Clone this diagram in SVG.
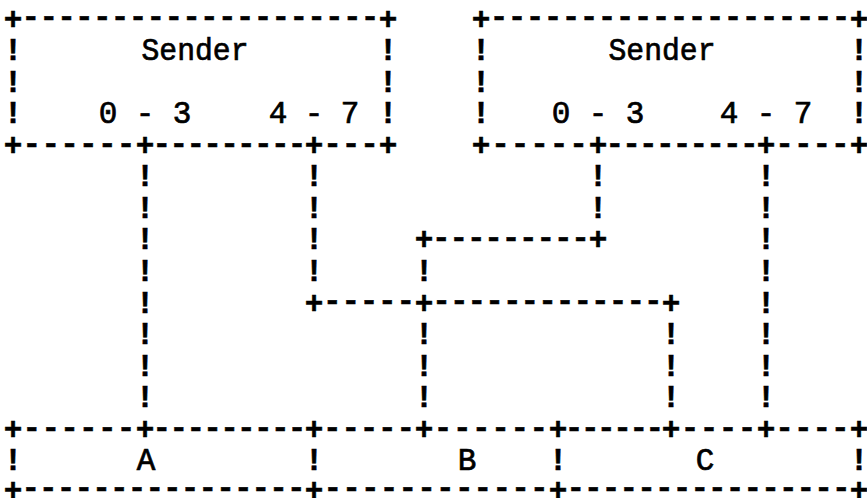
<svg xmlns="http://www.w3.org/2000/svg" width="867" height="498" viewBox="0 0 867 498">
<style>
text { font-family: "Liberation Mono", "DejaVu Sans Mono", monospace; font-size: 31px; font-weight: bold; fill: #000; text-anchor: middle; }
.art { stroke: #000; stroke-width: 0.5; }
.lbl { font-weight: normal; stroke: #000; stroke-width: 0.7; }
</style>
<rect width="867" height="498" fill="#fff"/>

<g id="sender-left">
  <text class="art"><tspan x="13" y="28.5">+</tspan><tspan x="30.9 48.7 66.6 84.4 102.3 120.1 138 155.9 173.7 191.6 209.4 227.3 245.1 263 280.9 298.7 316.6 334.4 352.3 370.1" y="26.3">--------------------</tspan><tspan x="388" y="28.5">+</tspan></text>
  <text class="art" x="13 13 13" y="60.1 91.6 123.2">!!!</text>
  <text class="art" x="388 388 388" y="60.1 91.6 123.2">!!!</text>
  <text class="lbl" x="195" y="60.1" textLength="107" lengthAdjust="spacingAndGlyphs">Sender</text>
  <text class="lbl" x="108 126.5 145 163.5 182" y="123.2">0 - 3</text>
  <text class="lbl" x="278 296 314 332 350" y="123.2">4 - 7</text>
  <text class="art"><tspan x="13" y="154.7">+</tspan><tspan x="31.9 50.7 69.6 88.4 107.3 126.1" y="152.5">------</tspan><tspan x="145" y="154.7">+</tspan><tspan x="161.9 178.8 195.7 212.6 229.5 246.4 263.3 280.2 297.1" y="152.5">---------</tspan><tspan x="314" y="154.7">+</tspan><tspan x="332.5 351 369.5" y="152.5">---</tspan><tspan x="388" y="154.7">+</tspan></text>
</g>

<g id="sender-right">
  <text class="art"><tspan x="481" y="28.5">+</tspan><tspan x="499 517 535 553 571 589 607 625 643 661 679 697 715 733 751 769 787 805 823 841" y="26.3">--------------------</tspan><tspan x="859" y="28.5">+</tspan></text>
  <text class="art" x="481 481 481" y="60.1 91.6 123.2">!!!</text>
  <text class="art" x="859 859 859" y="60.1 91.6 123.2">!!!</text>
  <text class="lbl" x="662" y="60.1" textLength="107" lengthAdjust="spacingAndGlyphs">Sender</text>
  <text class="lbl" x="561 579.5 598 616.5 635" y="123.2">0 - 3</text>
  <text class="lbl" x="729 747.5 766 784.5 803" y="123.2">4 - 7</text>
  <text class="art"><tspan x="481" y="154.7">+</tspan><tspan x="500.5 520 539.5 559 578.5" y="152.5">-----</tspan><tspan x="598" y="154.7">+</tspan><tspan x="614.8 631.6 648.4 665.2 682 698.8 715.6 732.4 749.2" y="152.5">---------</tspan><tspan x="766" y="154.7">+</tspan><tspan x="784.6 803.2 821.8 840.4" y="152.5">----</tspan><tspan x="859" y="154.7">+</tspan></text>
</g>

<g id="receivers">
  <text class="art"><tspan x="13" y="438.7">+</tspan><tspan x="31.9 50.7 69.6 88.4 107.3 126.1" y="436.5">------</tspan><tspan x="145" y="438.7">+</tspan><tspan x="161.9 178.8 195.7 212.6 229.5 246.4 263.3 280.2 297.1" y="436.5">---------</tspan><tspan x="314" y="438.7">+</tspan><tspan x="332.3 350.7 369 387.3 405.7" y="436.5">-----</tspan><tspan x="424" y="438.7">+</tspan><tspan x="443.1 462.3 481.4 500.6 519.7 538.9" y="436.5">------</tspan><tspan x="558" y="438.7">+</tspan><tspan x="574.1 590.3 606.4 622.6 638.7 654.9" y="436.5">------</tspan><tspan x="671" y="438.7">+</tspan><tspan x="690 709 728 747" y="436.5">----</tspan><tspan x="766" y="438.7">+</tspan><tspan x="784.6 803.2 821.8 840.4" y="436.5">----</tspan><tspan x="859" y="438.7">+</tspan></text>
  <text class="art" x="13" y="470.2">!</text>
  <text class="art" x="314" y="470.2">!</text>
  <text class="art" x="558" y="470.2">!</text>
  <text class="art" x="859" y="470.2">!</text>
  <text class="lbl" x="146" y="470.2">A</text>
  <text class="lbl" x="467" y="470.2">B</text>
  <text class="lbl" x="705" y="470.2">C</text>
  <text class="art"><tspan x="13" y="499.6">+</tspan><tspan x="30.7 48.4 66.1 83.8 101.5 119.3 137 154.7 172.4 190.1 207.8 225.5 243.2 260.9 278.6 296.3" y="497.4">----------------</tspan><tspan x="314" y="499.6">+</tspan><tspan x="332.8 351.5 370.3 389.1 407.8 426.6 445.4 464.2 482.9 501.7 520.5 539.2" y="497.4">------------</tspan><tspan x="558" y="499.6">+</tspan><tspan x="575.7 593.4 611.1 628.8 646.5 664.2 682 699.7 717.4 735.1 752.8 770.5 788.2 805.9 823.6 841.3" y="497.4">----------------</tspan><tspan x="859" y="499.6">+</tspan></text>
</g>

<g id="connectors">
  <g id="conn-left03-A">
    <text class="art" x="145 145 145 145 145 145 145 145" y="186.3 217.8 249.4 280.9 312.5 344 375.6 407.1">!!!!!!!!</text>
  </g>
  <g id="conn-left47-C">
    <text class="art" x="314 314 314 314" y="186.3 217.8 249.4 280.9">!!!!</text>
    <text class="art"><tspan x="314" y="312.5">+</tspan><tspan x="332.3 350.7 369 387.3 405.7" y="310.3">-----</tspan><tspan x="424" y="312.5">+</tspan><tspan x="441.6 459.3 476.9 494.6 512.2 529.9 547.5 565.1 582.8 600.4 618.1 635.7 653.4" y="310.3">-------------</tspan><tspan x="671" y="312.5">+</tspan></text>
    <text class="art" x="671 671 671" y="344 375.6 407.1">!!!</text>
  </g>
  <g id="conn-right03-B">
    <text class="art" x="598 598" y="186.3 217.8">!!</text>
    <text class="art"><tspan x="424" y="249.4">+</tspan><tspan x="441.4 458.8 476.2 493.6 511 528.4 545.8 563.2 580.6" y="247.2">---------</tspan><tspan x="598" y="249.4">+</tspan></text>
    <text class="art" x="424" y="280.9">!</text>
    <text class="art" x="424 424 424" y="344 375.6 407.1">!!!</text>
  </g>
  <g id="conn-right47-C">
    <text class="art" x="766 766 766 766 766 766 766 766" y="186.3 217.8 249.4 280.9 312.5 344 375.6 407.1">!!!!!!!!</text>
  </g>
</g>
</svg>
